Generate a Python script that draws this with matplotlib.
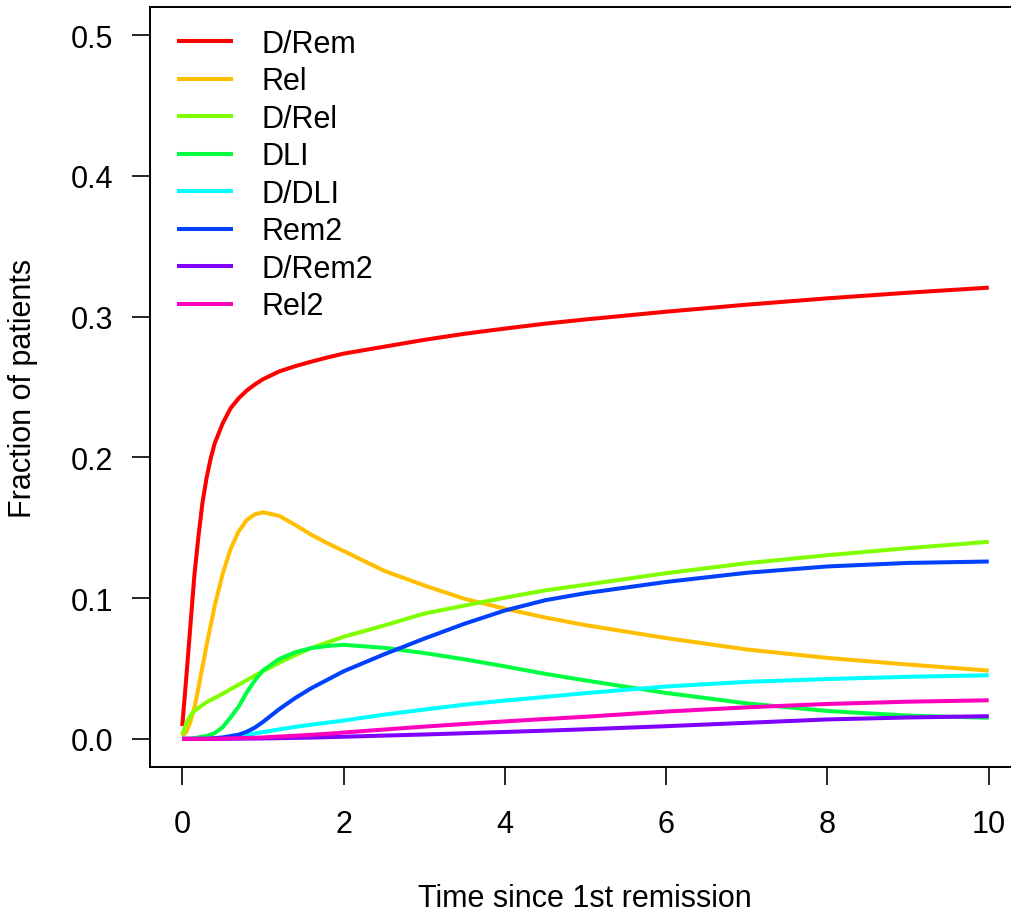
import matplotlib
matplotlib.use('Agg')
import matplotlib.pyplot as plt

# time grid (years since 1st remission) and fraction of patients per state
time = [0, 0.05, 0.1, 0.15, 0.2, 0.25, 0.3, 0.35, 0.4, 0.5, 0.6, 0.7, 0.8, 0.9, 1.0,
        1.2, 1.4, 1.6, 1.8, 2.0, 2.5, 3, 3.5, 4, 4.5, 5, 6, 7, 8, 9, 10]

d_rem = [0.009, 0.0435, 0.0798, 0.116, 0.1435, 0.1675, 0.185, 0.1986, 0.2096, 0.224,
         0.235, 0.242, 0.2475, 0.2518, 0.2555, 0.261, 0.2648, 0.268, 0.271, 0.2737,
         0.2786, 0.2835, 0.2878, 0.2915, 0.295, 0.298, 0.3035, 0.3085, 0.313, 0.317, 0.3206]
rel = [0.002, 0.005, 0.012, 0.022, 0.036, 0.051, 0.066, 0.080, 0.094, 0.117, 0.135,
       0.1475, 0.1555, 0.1595, 0.161, 0.1585, 0.152, 0.145, 0.139, 0.1335, 0.1195, 0.109,
       0.0995, 0.0925, 0.0862, 0.0808, 0.0716, 0.0635, 0.0575, 0.0528, 0.0485]
d_rel = [0.003, 0.011, 0.0165, 0.0198, 0.022, 0.024, 0.026, 0.0275, 0.029, 0.032, 0.0353,
         0.0385, 0.0417, 0.045, 0.048, 0.054, 0.0595, 0.0645, 0.0685, 0.0725, 0.0805, 0.089,
         0.0947, 0.1003, 0.1055, 0.1095, 0.1177, 0.1248, 0.1305, 0.1355, 0.140]
dli = [0, 0, 0, 0.0005, 0.001, 0.0015, 0.002, 0.003, 0.004, 0.0082, 0.0153, 0.023, 0.033,
       0.0415, 0.0485, 0.0567, 0.0615, 0.0645, 0.066, 0.0668, 0.0647, 0.061, 0.0565,
       0.0515, 0.0462, 0.0415, 0.0326, 0.0252, 0.0198, 0.0165, 0.015]
d_dli = [0, 0, 0, 0, 0, 0, 0, 0.0001, 0.0002, 0.0005, 0.001, 0.0017, 0.0028, 0.0038,
         0.0048, 0.0067, 0.0085, 0.0101, 0.0115, 0.013, 0.0172, 0.0208, 0.0243, 0.0272,
         0.0298, 0.0325, 0.0372, 0.0405, 0.0425, 0.0441, 0.0452]
rem2 = [0, 0, 0, 0, 0, 0, 0, 0.0002, 0.0005, 0.001, 0.002, 0.003, 0.005, 0.008, 0.012,
        0.021, 0.029, 0.036, 0.042, 0.048, 0.060, 0.0712, 0.0818, 0.0912, 0.0985, 0.1035,
        0.1115, 0.118, 0.1225, 0.125, 0.126]
d_rem2 = [0, 0, 0, 0, 0, 0, 0, 0, 0, 0, 0.0001, 0.0001, 0.0002, 0.0002, 0.0003, 0.0005,
          0.0007, 0.0009, 0.0012, 0.0015, 0.0023, 0.0031, 0.004, 0.0049, 0.0058, 0.0068,
          0.009, 0.0114, 0.0138, 0.0152, 0.0161]
rel2 = [0, 0, 0, 0, 0, 0, 0, 0.0001, 0.0001, 0.0002, 0.0003, 0.0005, 0.0007, 0.0008, 0.001,
        0.0016, 0.0022, 0.0029, 0.0036, 0.0045, 0.0066, 0.0087, 0.0106, 0.0124, 0.0141,
        0.0157, 0.0194, 0.0224, 0.0248, 0.0264, 0.0274]

labels = ['D/Rem', 'Rel', 'D/Rel', 'DLI', 'D/DLI', 'Rem2', 'D/Rem2', 'Rel2']
series = [d_rem, rel, d_rel, dli, d_dli, rem2, d_rem2, rel2]
# R rainbow(8)
colors = ['#FF0000', '#FFBF00', '#80FF00', '#00FF40', '#00FFFF', '#0040FF', '#8000FF', '#FF00BF']

plt.rcParams['font.family'] = ['Liberation Sans', 'DejaVu Sans']
fs = 22

fig = plt.figure(figsize=(10.12, 9.12), dpi=100)
W, H = 1012, 912
ax = fig.add_axes([150 / W, (H - 768) / H, 871 / W, 760 / H])

for vals, lab, col in zip(series, labels, colors):
    ax.plot(time, vals, color=col, lw=2.9, label=lab, solid_capstyle='butt',
            solid_joinstyle='round')

ax.set_xlim(-0.4, 10.4)
ax.set_ylim(-0.02, 0.52)
ax.set_xticks([0, 2, 4, 6, 8, 10])
ax.set_yticks([0.0, 0.1, 0.2, 0.3, 0.4, 0.5])
ax.set_yticklabels(['0.0', '0.1', '0.2', '0.3', '0.4', '0.5'])
ax.tick_params(axis='both', direction='out', length=13, width=1.2, labelsize=fs, colors='black')
ax.tick_params(axis='x', pad=17)
ax.tick_params(axis='y', pad=13.5)
for sp in ax.spines.values():
    sp.set_linewidth(1.4)

ax.set_xlabel('Time since 1st remission', fontsize=fs)
ax.set_ylabel('Fraction of patients', fontsize=fs)
ax.xaxis.set_label_coords((585 - 150) / 871, -(884 - 768) / 760)
ax.yaxis.set_label_coords(-(150 - 38) / 871, 0.5)

ax.legend(loc='upper left', bbox_to_anchor=(27 / 871, 1 - 22 / 760), frameon=False,
          fontsize=fs, handlelength=1.83, handletextpad=0.92, labelspacing=0.245,
          borderpad=0, borderaxespad=0)

fig.savefig('out.png', dpi=100)
